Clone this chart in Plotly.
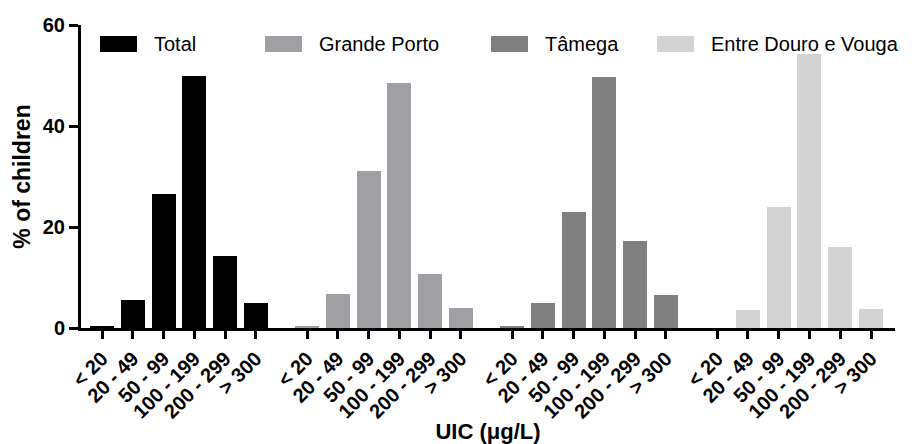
import plotly.graph_objects as go

# ---- data ----
categories = ["< 20", "20 - 49", "50 - 99", "100 - 199", "200 - 299", "> 300"]
series_names = ["Total", "Grande Porto", "Tâmega", "Entre Douro e Vouga"]
total = [0.4, 5.5, 26.5, 50.0, 14.3, 5.0]
grande_porto = [0.4, 6.8, 31.0, 48.5, 10.7, 4.0]
tamega = [0.4, 5.0, 22.9, 49.8, 17.2, 6.5]
entre_douro_vouga = [0.0, 3.5, 24.0, 54.2, 16.0, 3.7]
series_values = [total, grande_porto, tamega, entre_douro_vouga]
y_ticks = [0, 20, 40, 60]

# ---- styling ----
colors = ["#000000", "#A0A0A4", "#808080", "#D3D3D3"]
FONT = "Liberation Sans, Arial, sans-serif"
W, H = 917, 444
ML, MR, MT, MB = 81, 22, 25, 116
group_stride = 6.667
bar_width = 0.78

fig = go.Figure()
tickvals, ticktext = [], []
for g, (name, vals) in enumerate(zip(series_names, series_values)):
    xs = [g * group_stride + i for i in range(len(categories))]
    tickvals += xs
    ticktext += categories
    fig.add_trace(go.Bar(
        x=xs, y=vals, name=name, width=bar_width,
        marker=dict(color=colors[g], line=dict(width=0)),
        showlegend=False,
    ))

# manual legend (pixel layout -> paper coordinates)
pw, ph = W - ML - MR, H - MT - MB
def px(xp):
    return (xp - ML) / pw
def py(yp):
    return (H - MB - yp) / ph

legend_box_x = [100, 265, 491, 657]
box_w, box_top, box_bot, text_gap = 37, 36, 52, 15
for g, name in enumerate(series_names):
    x0 = legend_box_x[g]
    fig.add_shape(type="rect", xref="paper", yref="paper",
                  x0=px(x0), x1=px(x0 + box_w), y0=py(box_bot), y1=py(box_top),
                  fillcolor=colors[g], line=dict(width=0))
    fig.add_annotation(xref="paper", yref="paper", x=px(x0 + box_w + text_gap),
                       y=py((box_top + box_bot) / 2), text=name, showarrow=False,
                       xanchor="left", yanchor="middle",
                       font=dict(family=FONT, size=20, color="black"))

fig.update_layout(
    width=W, height=H,
    margin=dict(l=ML, r=MR, t=MT, b=MB, autoexpand=False),
    plot_bgcolor="white", paper_bgcolor="white",
    bargap=0,
    xaxis=dict(
        range=[-0.683, 3 * group_stride + 5 + 0.78],
        tickmode="array", tickvals=tickvals, ticktext=ticktext,
        tickangle=-45, automargin=False,
        tickfont=dict(family=FONT, size=20, color="black", weight="bold"),
        showline=True, linecolor="black", linewidth=3,
        ticks="outside", ticklen=8, tickwidth=2.5, tickcolor="black",
        showgrid=False, zeroline=False,
        title=dict(text="UIC (μg/L)", font=dict(family=FONT, size=22, color="black", weight="bold"),
                   standoff=6),
    ),
    yaxis=dict(
        range=[0, 60], tickvals=y_ticks, automargin=False,
        tickfont=dict(family=FONT, size=20, color="black", weight="bold"),
        showline=True, linecolor="black", linewidth=3,
        ticks="outside", ticklen=9, tickwidth=2.5, tickcolor="black",
        showgrid=False, zeroline=False,
        title=dict(text="% of children", font=dict(family=FONT, size=23, color="black", weight="bold"),
                   standoff=6),
    ),
)

fig.write_html("out.html", config={"displayModeBar": False},
               post_script="document.body.style.margin='0px';")
